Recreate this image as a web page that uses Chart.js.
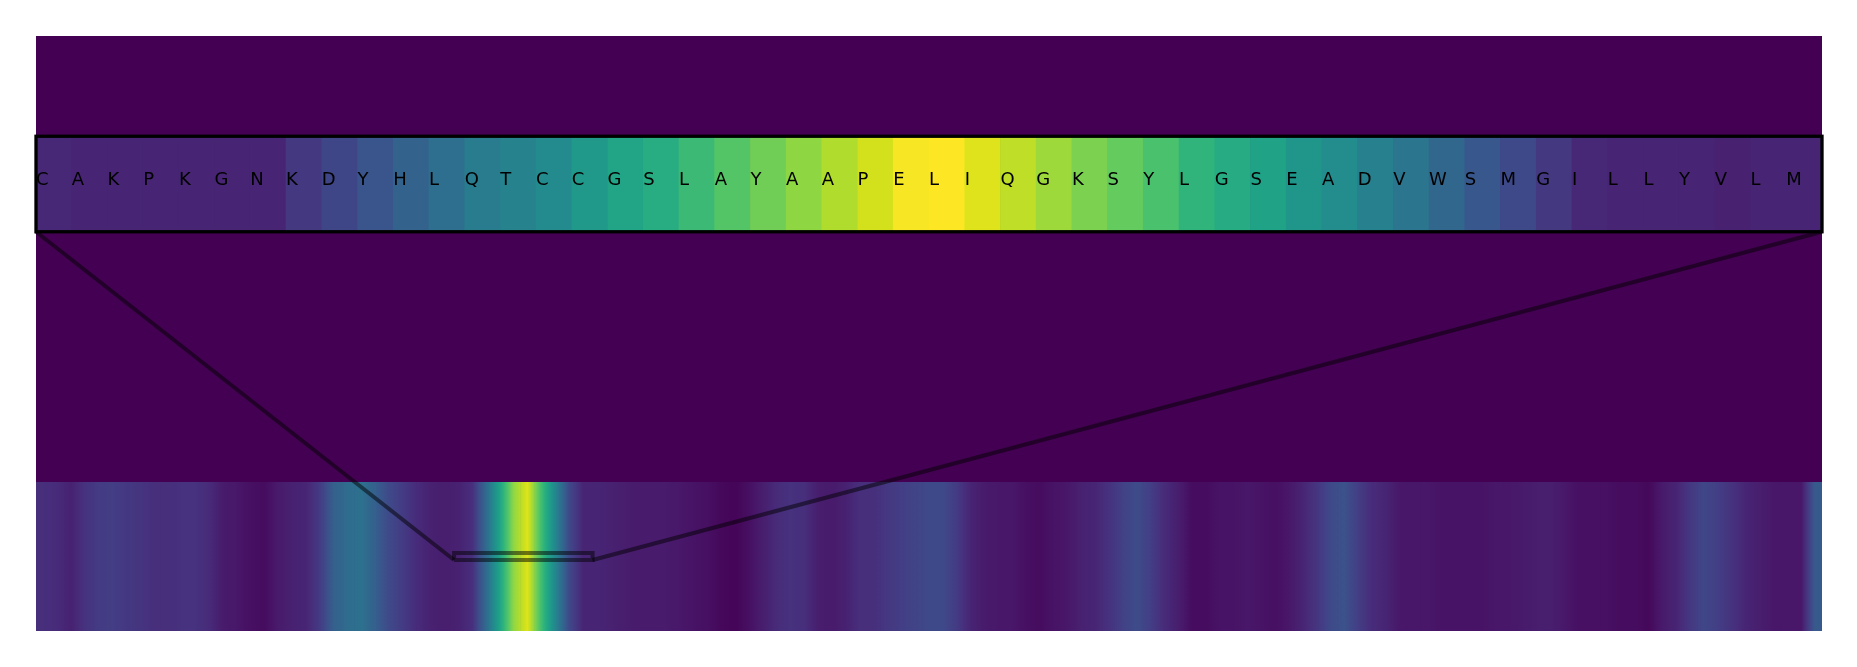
<!DOCTYPE html>
<html><head><meta charset="utf-8">
<script src="https://cdn.jsdelivr.net/npm/chart.js@4.4.0/dist/chart.umd.min.js"></script>
<style>html,body{margin:0;padding:0;background:#fff;overflow:hidden}#wrap{width:1857px;height:667px;position:relative}</style>
</head><body><div id="wrap"><canvas id="c" width="1857" height="667"></canvas></div>
<script>
// ---- data ----
const residues = ['C','A','K','P','K','G','N','K','D','Y','H','L','Q','T','C','C','G','S','L','A','Y','A','A','P','E','L','I','Q','G','K','S','Y','L','G','S','E','A','D','V','W','S','M','G','I','L','L','Y','V','L','M'];
const insetValues = [0.11,0.10,0.10,0.10,0.10,0.10,0.10,0.16,0.21,0.26,0.31,0.36,0.41,0.44,0.47,0.53,0.58,0.62,0.68,0.73,0.78,0.83,0.88,0.93,0.99,1.00,0.95,0.90,0.85,0.80,0.76,0.71,0.65,0.61,0.57,0.52,0.48,0.43,0.39,0.33,0.27,0.22,0.16,0.11,0.10,0.10,0.10,0.09,0.10,0.10];
const blockValues = [
0.13,0.12,0.09,0.14,0.17,0.18,0.16,0.15,0.13,0.13,
0.14,0.14,0.12,0.07,0.06,0.04,0.03,0.07,0.09,0.10,
0.17,0.30,0.35,0.37,0.30,0.22,0.17,0.12,0.09,0.08,
0.09,0.13,0.34,0.58,0.83,0.95,0.69,0.46,0.22,0.10,
0.10,0.09,0.08,0.07,0.07,0.07,0.06,0.05,0.04,0.02,
0.01,0.04,0.08,0.12,0.14,0.13,0.08,0.07,0.09,0.13,
0.13,0.16,0.18,0.20,0.22,0.22,0.17,0.10,0.07,0.06,
0.06,0.04,0.03,0.05,0.06,0.09,0.10,0.14,0.19,0.23,
0.18,0.12,0.08,0.03,0.03,0.05,0.05,0.06,0.05,0.04,
0.06,0.10,0.15,0.22,0.25,0.18,0.12,0.10,0.06,0.06,
0.06,0.05,0.05,0.05,0.05,0.06,0.06,0.07,0.08,0.08,
0.06,0.04,0.04,0.04,0.03,0.03,0.02,0.07,0.10,0.16,
0.21,0.18,0.14,0.10,0.08,0.06,0.06,0.06,0.28];
const blockSize = 5;
const sequenceLength = 645;
const windowStart = 151, windowEnd = 201;
const yExtent = [0, 4];
const stripRange = [0, 1];
const insetRange = [2.684, 3.326];
const rectRange = [0.477, 0.524];
const labelY = 3.0;

// ---- colormap (viridis) ----
const VIR = ['#440154','#48186a','#472d7b','#424086','#3b528b','#33638d','#2c728e','#26828e','#21918c','#1fa088','#28ae80','#3fbc73','#5ec962','#84d44b','#addc30','#d8e219','#fde725'];
const VIRrgb = VIR.map(h => [parseInt(h.slice(1,3),16),parseInt(h.slice(3,5),16),parseInt(h.slice(5,7),16)]);
function viridis(t){
  t = Math.max(0, Math.min(1, t));
  const f = t*(VIRrgb.length-1), k = Math.min(Math.floor(f), VIRrgb.length-2), u = f-k;
  const a = VIRrgb[k], b = VIRrgb[k+1];
  return 'rgb(' + [0,1,2].map(j => Math.round(a[j]+(b[j]-a[j])*u)).join(',') + ')';
}

const stripColor = (ctx) => {
  const i = ctx.dataIndex;
  const chart = ctx.chart, xs = chart.scales && chart.scales.x;
  if (i === undefined) return viridis(0);
  const cur = blockValues[i];
  if (!xs || !chart.chartArea) return viridis(cur);
  const prev = blockValues[Math.max(i-1,0)], next = blockValues[Math.min(i+1, blockValues.length-1)];
  const l = xs.getPixelForValue(i*blockSize), r = xs.getPixelForValue((i+1)*blockSize);
  const g = chart.ctx.createLinearGradient(l, 0, r, 0);
  const a0 = (prev+cur)/2, a1 = (cur+next)/2;
  for (let s = 0; s <= 8; s++) {
    const t = s/8;
    const v = t < 0.5 ? a0 + (cur-a0)*(t/0.5) : cur + (a1-cur)*((t-0.5)/0.5);
    g.addColorStop(t, viridis(v));
  }
  return g;
};

const bgPlugin = {
  id: 'bg',
  beforeDatasetsDraw(chart){
    const {ctx, chartArea:a} = chart;
    ctx.save(); ctx.fillStyle = viridis(0);
    ctx.fillRect(a.left, a.top, a.right-a.left, a.bottom-a.top);
    ctx.restore();
  }
};
const insetPlugin = {
  id: 'inset',
  afterDatasetsDraw(chart){
    const {ctx} = chart; const xi = chart.scales.xi, y = chart.scales.y;
    ctx.save();
    ctx.fillStyle = '#000';
    ctx.font = '18px "DejaVu Sans"';
    ctx.textAlign = 'left'; ctx.textBaseline = 'alphabetic';
    residues.forEach((r, i) => ctx.fillText(r, xi.getPixelForValue(i), y.getPixelForValue(labelY)));
    const l = xi.getPixelForValue(0), rr = xi.getPixelForValue(residues.length);
    const t = y.getPixelForValue(insetRange[1]), b = y.getPixelForValue(insetRange[0]);
    ctx.strokeStyle = '#000'; ctx.lineWidth = 3.3;
    ctx.strokeRect(l, t, rr-l, b-t);
    ctx.restore();
  }
};

const lineStyle = {type:'line', xAxisID:'x', yAxisID:'y', borderColor:'rgba(0,0,0,0.5)', borderWidth:4, pointRadius:0, fill:false, tension:0, clip:false};

new Chart(document.getElementById('c'), {
  type: 'bar',
  data: {
    datasets: [
      Object.assign({}, lineStyle, {order:0, data:[{x:0,y:insetRange[0]},{x:windowStart,y:rectRange[0]}]}),
      Object.assign({}, lineStyle, {order:0, data:[{x:sequenceLength,y:insetRange[0]},{x:windowEnd,y:rectRange[0]}]}),
      Object.assign({}, lineStyle, {order:1, data:[
        {x:windowStart,y:rectRange[0]},{x:windowEnd,y:rectRange[0]},{x:windowEnd,y:rectRange[1]},
        {x:windowStart,y:rectRange[1]},{x:windowStart,y:rectRange[0]}]}),
      {order:2, xAxisID:'xi', yAxisID:'y', grouped:false, barPercentage:1, categoryPercentage:1, borderWidth:0, borderSkipped:false,
        data: insetValues.map((v,i) => ({x:i+0.5, y:insetRange})),
        backgroundColor: insetValues.map(viridis)},
      {order:3, xAxisID:'x', yAxisID:'y', grouped:false, barPercentage:1, categoryPercentage:1, borderWidth:0, borderSkipped:false,
        data: blockValues.map((v,i) => ({x:i*blockSize+blockSize/2, y:stripRange})),
        backgroundColor: stripColor}
    ]
  },
  options: {
    responsive:false, animation:false, devicePixelRatio:1,
    layout:{padding:{left:36, right:35, top:36, bottom:36}},
    plugins:{legend:{display:false}, tooltip:{enabled:false}},
    scales:{
      x:{type:'linear', axis:'x', min:0, max:sequenceLength, display:false, offset:false},
      xi:{type:'linear', axis:'x', min:0, max:residues.length, display:false, offset:false},
      y:{type:'linear', min:yExtent[0], max:yExtent[1], display:false}
    }
  },
  plugins:[bgPlugin, insetPlugin]
});
</script></body></html>
